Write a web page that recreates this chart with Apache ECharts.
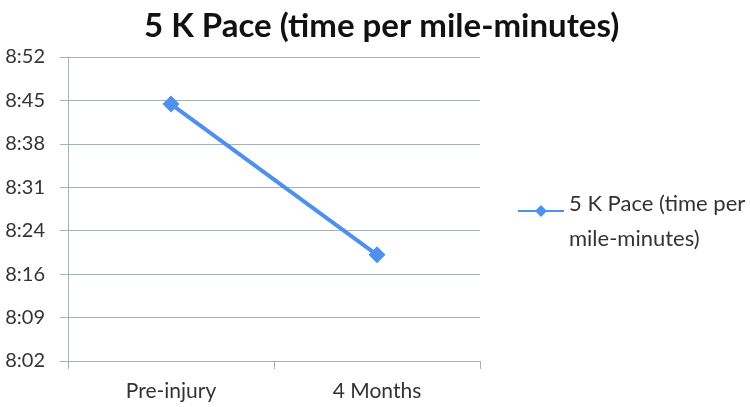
<!DOCTYPE html>
<html>
<head>
<meta charset="utf-8">
<script src="https://cdn.jsdelivr.net/npm/echarts@6/dist/echarts.min.js"></script>
<style>
  html, body { margin: 0; padding: 0; background: #fff; }
  #chart { width: 750px; height: 407px; }
</style>
</head>
<body>
<div id="chart"></div>
<script>
// pace values in minutes (8:45 -> 525, 8:20 -> 500)
const categories = ['Pre-injury', '4 Months']
const paceValues = [525, 500]
const seriesName = '5 K Pace (time per mile-minutes)'
// axis runs like Excel's time axis: 0.335 .. 0.370 day, step 0.005 day
const yMin = 482.4
const yMax = 532.8
const yStep = 7.2

const fmtTime = (v) => {
  const m = Math.floor(v + 1e-6)
  const h = Math.floor(m / 60)
  const mm = m % 60
  return h + ':' + (mm < 10 ? '0' + mm : mm)
}

const font = 'Lato, "Open Sans", sans-serif'
const gridColor = '#a9b0b0'
const lineColor = '#4f8ff0'

const chart = echarts.init(document.getElementById('chart'))
chart.setOption({
  animation: false,
  title: {
    text: '5 K Pace (time per mile-minutes)',
    left: 139,
    top: 5,
    textStyle: { fontFamily: font, fontSize: 33, fontWeight: 'bold', color: '#111' }
  },
  legend: {
    left: 512,
    top: 166,
    orient: 'vertical',
    itemWidth: 46,
    itemHeight: 15,
    formatter: () => '{s| }\n{t|5 K Pace (time per}\n{t|mile-minutes)}',
    textStyle: {
      fontFamily: font,
      fontSize: 22,
      color: '#333',
      rich: {
        s: { lineHeight: 21, fontSize: 10 },
        t: { lineHeight: 35, fontSize: 22, fontFamily: font, color: '#333' }
      }
    }
  },
  grid: { left: 68, right: 270, top: 57, bottom: 46 },
  xAxis: {
    type: 'category',
    data: categories,
    boundaryGap: true,
    axisLine: { lineStyle: { color: gridColor, width: 1 } },
    axisTick: { show: true, length: 8, lineStyle: { color: gridColor } },
    axisLabel: { margin: 20, fontFamily: font, fontSize: 21, color: '#333' }
  },
  yAxis: {
    type: 'value',
    min: yMin,
    max: yMax,
    interval: yStep,
    axisLine: { show: true, lineStyle: { color: gridColor, width: 1 } },
    axisTick: { show: true, length: 8, lineStyle: { color: gridColor } },
    splitLine: { lineStyle: { color: gridColor, width: 1 } },
    axisLabel: { margin: 23, fontFamily: font, fontSize: 20, color: '#333', formatter: fmtTime }
  },
  series: [{
    name: seriesName,
    type: 'line',
    data: paceValues,
    symbol: 'diamond',
    symbolSize: 17,
    lineStyle: { color: lineColor, width: 4 },
    itemStyle: { color: lineColor }
  }]
})
</script>
</body>
</html>
